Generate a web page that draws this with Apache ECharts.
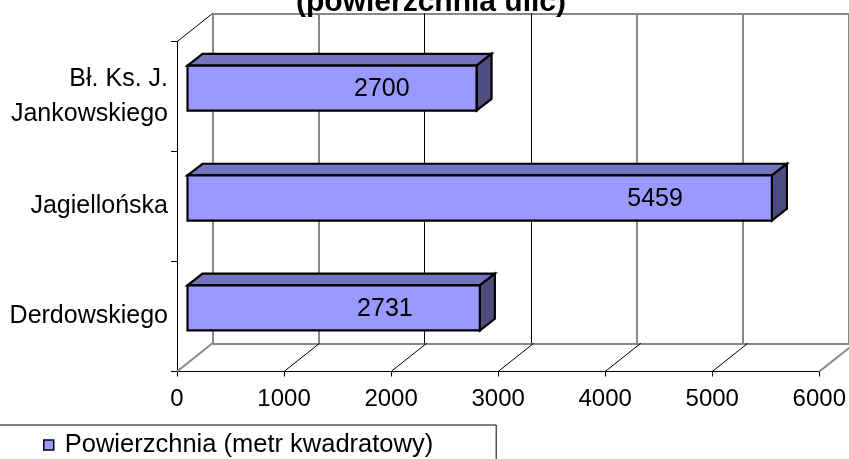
<!DOCTYPE html>
<html>
<head>
<meta charset="utf-8">
<script src="https://cdn.jsdelivr.net/npm/echarts@6/dist/echarts.min.js"></script>
<style>
  html, body { margin: 0; padding: 0; background: #fff; }
  #chart { width: 849px; height: 459px; }
</style>
</head>
<body>
<div id="chart"></div>
<script>
// ---- data ----
const titleText = '(powierzchnia ulic)';
const seriesName = 'Powierzchnia (metr kwadratowy)';
const categories = ['Derdowskiego', 'Jagiellońska', 'Bł. Ks. J.\nJankowskiego'];
const values = [2731, 5459, 2700];
const xTicks = [0, 1000, 2000, 3000, 4000, 5000, 6000];
const xMin = 0, xMax = 6000, xStep = 1000;

// ---- styling constants ----
const FONT = 'Liberation Sans, Arial, sans-serif';
const DX = 35.5, DY = -28.2;        // depth of the 3D box
const BAR_OFF_X = 10.5, BAR_OFF_Y = -8.6; // bar front face offset
const BAR_DX = 15, BAR_DY = -11.7;  // bar depth
const GRAY = '#888888';

const chart = echarts.init(document.getElementById('chart'));

const grayColors = xTicks.map((v) => (v === 2000 || v === 3000) ? 'rgba(0,0,0,0)' : GRAY);
const blackColors = xTicks.map((v) => (v === 2000 || v === 3000) ? '#000' : 'rgba(0,0,0,0)');

const option = {
  backgroundColor: '#fff',
  animation: false,
  title: {
    text: titleText,
    left: 296,
    top: -12,
    padding: 0,
    textStyle: { fontFamily: FONT, fontSize: 30, fontWeight: 'bold', color: '#000', lineHeight: 30 }
  },
  legend: {
    data: [{ name: seriesName, icon: 'rect' }],
    left: -30,
    top: 425,
    padding: [7, 63, 30, 73],
    itemWidth: 10,
    itemHeight: 10,
    selectedMode: false,
    borderColor: '#000',
    borderWidth: 1,
    itemStyle: { color: '#9999FF', borderColor: '#000', borderWidth: 1.5 },
    textStyle: { fontFamily: FONT, fontSize: 25.5, color: '#000', padding: [0, 0, 0, 6] }
  },
  grid: [
    { left: 177, right: 28.7, top: 41.7, bottom: 87.5 },
    { left: 212.5, right: -6.8, top: 13.5, bottom: 115.7 }
  ],
  xAxis: [
    {
      type: 'value', gridIndex: 0, min: xMin, max: xMax, interval: xStep,
      axisLine: { show: true, lineStyle: { color: '#000', width: 1 } },
      axisTick: { show: true, length: 5, lineStyle: { color: '#000' } },
      splitLine: { show: false },
      axisLabel: {
        fontFamily: FONT, fontSize: 24, color: '#000', margin: 16,
        formatter: (v) => String(v)
      }
    },
    {
      type: 'value', gridIndex: 1, min: xMin, max: xMax, interval: xStep,
      axisLine: { show: false }, axisTick: { show: false }, axisLabel: { show: false },
      splitLine: { show: true, lineStyle: { color: grayColors, width: 2 } }
    },
    {
      type: 'value', gridIndex: 1, min: xMin, max: xMax, interval: xStep, position: 'top',
      axisLine: { show: false }, axisTick: { show: false }, axisLabel: { show: false },
      splitLine: { show: true, lineStyle: { color: blackColors, width: 1 } }
    }
  ],
  yAxis: [
    {
      type: 'category', gridIndex: 0, data: categories,
      axisLine: { show: true, lineStyle: { color: '#000', width: 1 } },
      axisTick: { show: true, length: 6, lineStyle: { color: '#000' } },
      splitLine: { show: false },
      axisLabel: { fontFamily: FONT, fontSize: 25, lineHeight: 35, color: '#000', margin: 9, align: 'right' }
    },
    {
      type: 'value', gridIndex: 1, min: 0, max: 1, interval: 1,
      axisLine: { show: false }, axisTick: { show: false }, axisLabel: { show: false },
      splitLine: { show: true, lineStyle: { color: GRAY, width: 2 } }
    }
  ],
  series: [
    {
      // floor diagonals & side wall edges
      type: 'custom',
      name: 'floor',
      xAxisIndex: 0, yAxisIndex: 0,
      silent: true,
      z: 1,
      data: xTicks.map((v) => [v, 0]),
      encode: { x: 0, y: 1 },
      renderItem: function (params, api) {
        const v = api.value(0);
        const cs = params.coordSys;
        const x = api.coord([v, 0])[0];
        const yb = cs.y + cs.height;
        const edge = (v === xMin || v === xMax);
        const children = [{
          type: 'line',
          shape: { x1: x, y1: yb, x2: x + DX, y2: yb + DY },
          style: { stroke: edge ? GRAY : '#000', lineWidth: edge ? 2 : 1 }
        }];
        if (v === xMin) {
          children.push({
            type: 'line',
            shape: { x1: x, y1: cs.y, x2: x + DX, y2: cs.y + DY },
            style: { stroke: '#000', lineWidth: 1 }
          });
        }
        return { type: 'group', children: children };
      }
    },
    {
      type: 'custom',
      name: seriesName,
      xAxisIndex: 0, yAxisIndex: 0,
      z: 5,
      itemStyle: { color: '#9999FF', borderColor: '#000', borderWidth: 1.5 },
      data: values.map((v, i) => [v, i]),
      encode: { x: 0, y: 1 },
      renderItem: function (params, api) {
        const v = api.value(0);
        const i = api.value(1);
        const p0 = api.coord([0, i]);
        const p1 = api.coord([v, i]);
        const band = api.size([0, 1])[1];
        const h = band * 0.41;
        const cy = p0[1] + BAR_OFF_Y;
        const L = p0[0] + BAR_OFF_X;
        const R = p1[0] + BAR_OFF_X;
        const T = cy - h / 2;
        const B = cy + h / 2;
        const w = R - L;
        const stroke = { stroke: '#000', lineWidth: 2.2, lineJoin: 'miter' };
        return {
          type: 'group',
          children: [
            {
              type: 'polygon',
              shape: { points: [[L, T], [L + BAR_DX, T + BAR_DY], [R + BAR_DX, T + BAR_DY], [R, T]] },
              style: Object.assign({ fill: '#7373BF' }, stroke)
            },
            {
              type: 'polygon',
              shape: { points: [[R, T], [R + BAR_DX, T + BAR_DY], [R + BAR_DX, B + BAR_DY], [R, B]] },
              style: Object.assign({ fill: '#4D4D80' }, stroke)
            },
            {
              type: 'rect',
              shape: { x: L, y: T, width: w, height: B - T },
              style: Object.assign({ fill: '#9999FF' }, stroke)
            },
            {
              type: 'text',
              style: {
                text: String(v),
                x: R - (73 + 0.075 * w),
                y: cy + 1,
                align: 'center',
                verticalAlign: 'middle',
                fontFamily: FONT,
                fontSize: 25,
                fill: '#000'
              }
            }
          ]
        };
      }
    }
  ]
};

chart.setOption(option);
</script>
</body>
</html>
